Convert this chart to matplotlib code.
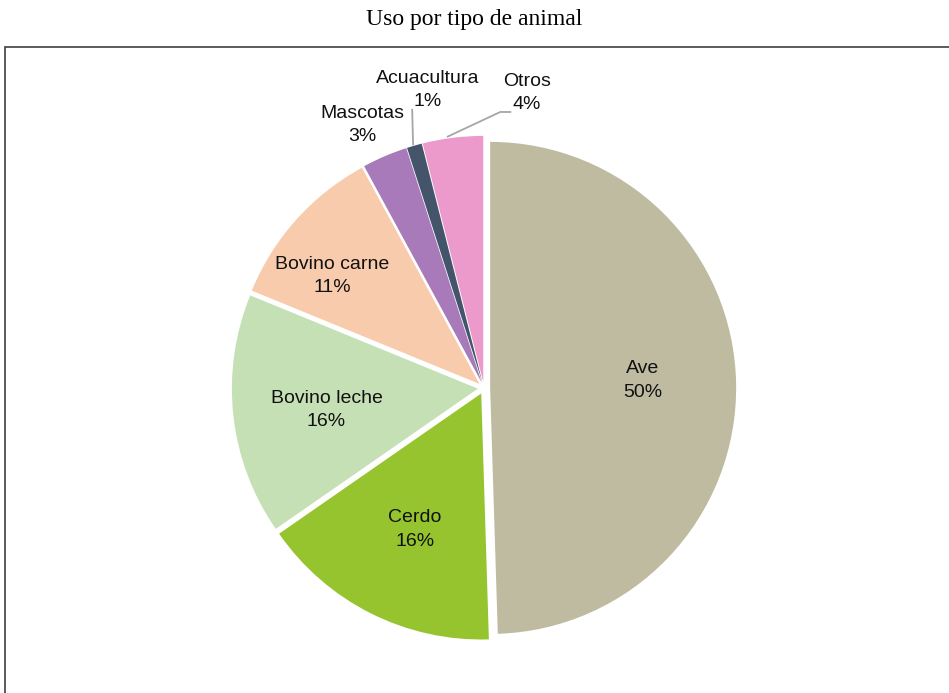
import matplotlib
matplotlib.use('Agg')

import numpy as np
import matplotlib.pyplot as plt
from matplotlib.patches import Rectangle

# ---------------- DATA ----------------
categories = ['Ave', 'Cerdo', 'Bovino leche', 'Bovino carne', 'Mascotas', 'Acuacultura', 'Otros']
values = [50, 16, 16, 11, 3, 1, 4]
colors = ['#BFBBA1', '#95C42F', '#C6E0B5', '#F8CBAD', '#A87AB9', '#44546A', '#EC9ACC']
# --------------------------------------

W, H = 949, 693
cx, cy, R = 484, 388, 246   # pie centre / radius in pixels

# label positions in pie-radius units (Excel placed these by hand / best fit)
label_pos = [(0.645, 0.03), (-0.28, -0.575), (-0.64, -0.09), (-0.617, 0.455),
             (-0.496, 1.07), (-0.228, 1.211), (0.175, 1.199)]

fig = plt.figure(figsize=(W / 100, H / 100), dpi=100)
ax = fig.add_axes([0, 0, 1, 1])

# outer box (only left and top edges visible in the reference)
fig.patches.append(Rectangle((5 / W, -0.1), 1.2, (H - 47) / H + 0.1,
                             transform=fig.transFigure, fill=False,
                             edgecolor='#404040', linewidth=1.2))

fig.text(0.5, 1 - 20 / H, 'Uso por tipo de animal', ha='center', va='center',
         family='Liberation Serif', fontsize=17)

ex = 0.025
wedges, _ = ax.pie(values, colors=colors, startangle=90, counterclock=False,
                   explode=[ex] * len(values), radius=1,
                   wedgeprops=dict(linewidth=0))

ax.set_xlim(-cx / R, (W - cx) / R)
ax.set_ylim(-(H - cy) / R, cy / R)
ax.set_aspect('equal')
ax.axis('off')

font = dict(family='Liberation Sans', fontsize=14, color='#111111')

for i, (tx, ty) in enumerate(label_pos):
    ax.text(tx, ty, f'{categories[i]}\n{values[i]}%', ha='center', va='center',
            linespacing=1.5, **font)

# leader lines for the two thinnest slices
for i in (5, 6):
    w = wedges[i]
    ang = np.deg2rad((w.theta1 + w.theta2) / 2)
    px, py = (1 + ex) * np.cos(ang), (1 + ex) * np.sin(ang)
    tx, ty = label_pos[i]
    if i == 5:
        ax.plot([px - 0.005, tx - 0.064], [py + 0.005, ty - 0.08], color='#A6A6A6', lw=1.3)
    else:
        ax.plot([px - 0.02, tx - 0.109, tx - 0.068], [py + 0.005, ty - 0.077, ty - 0.077],
                color='#A6A6A6', lw=1.3)

plt.savefig('out.png', dpi=100)
